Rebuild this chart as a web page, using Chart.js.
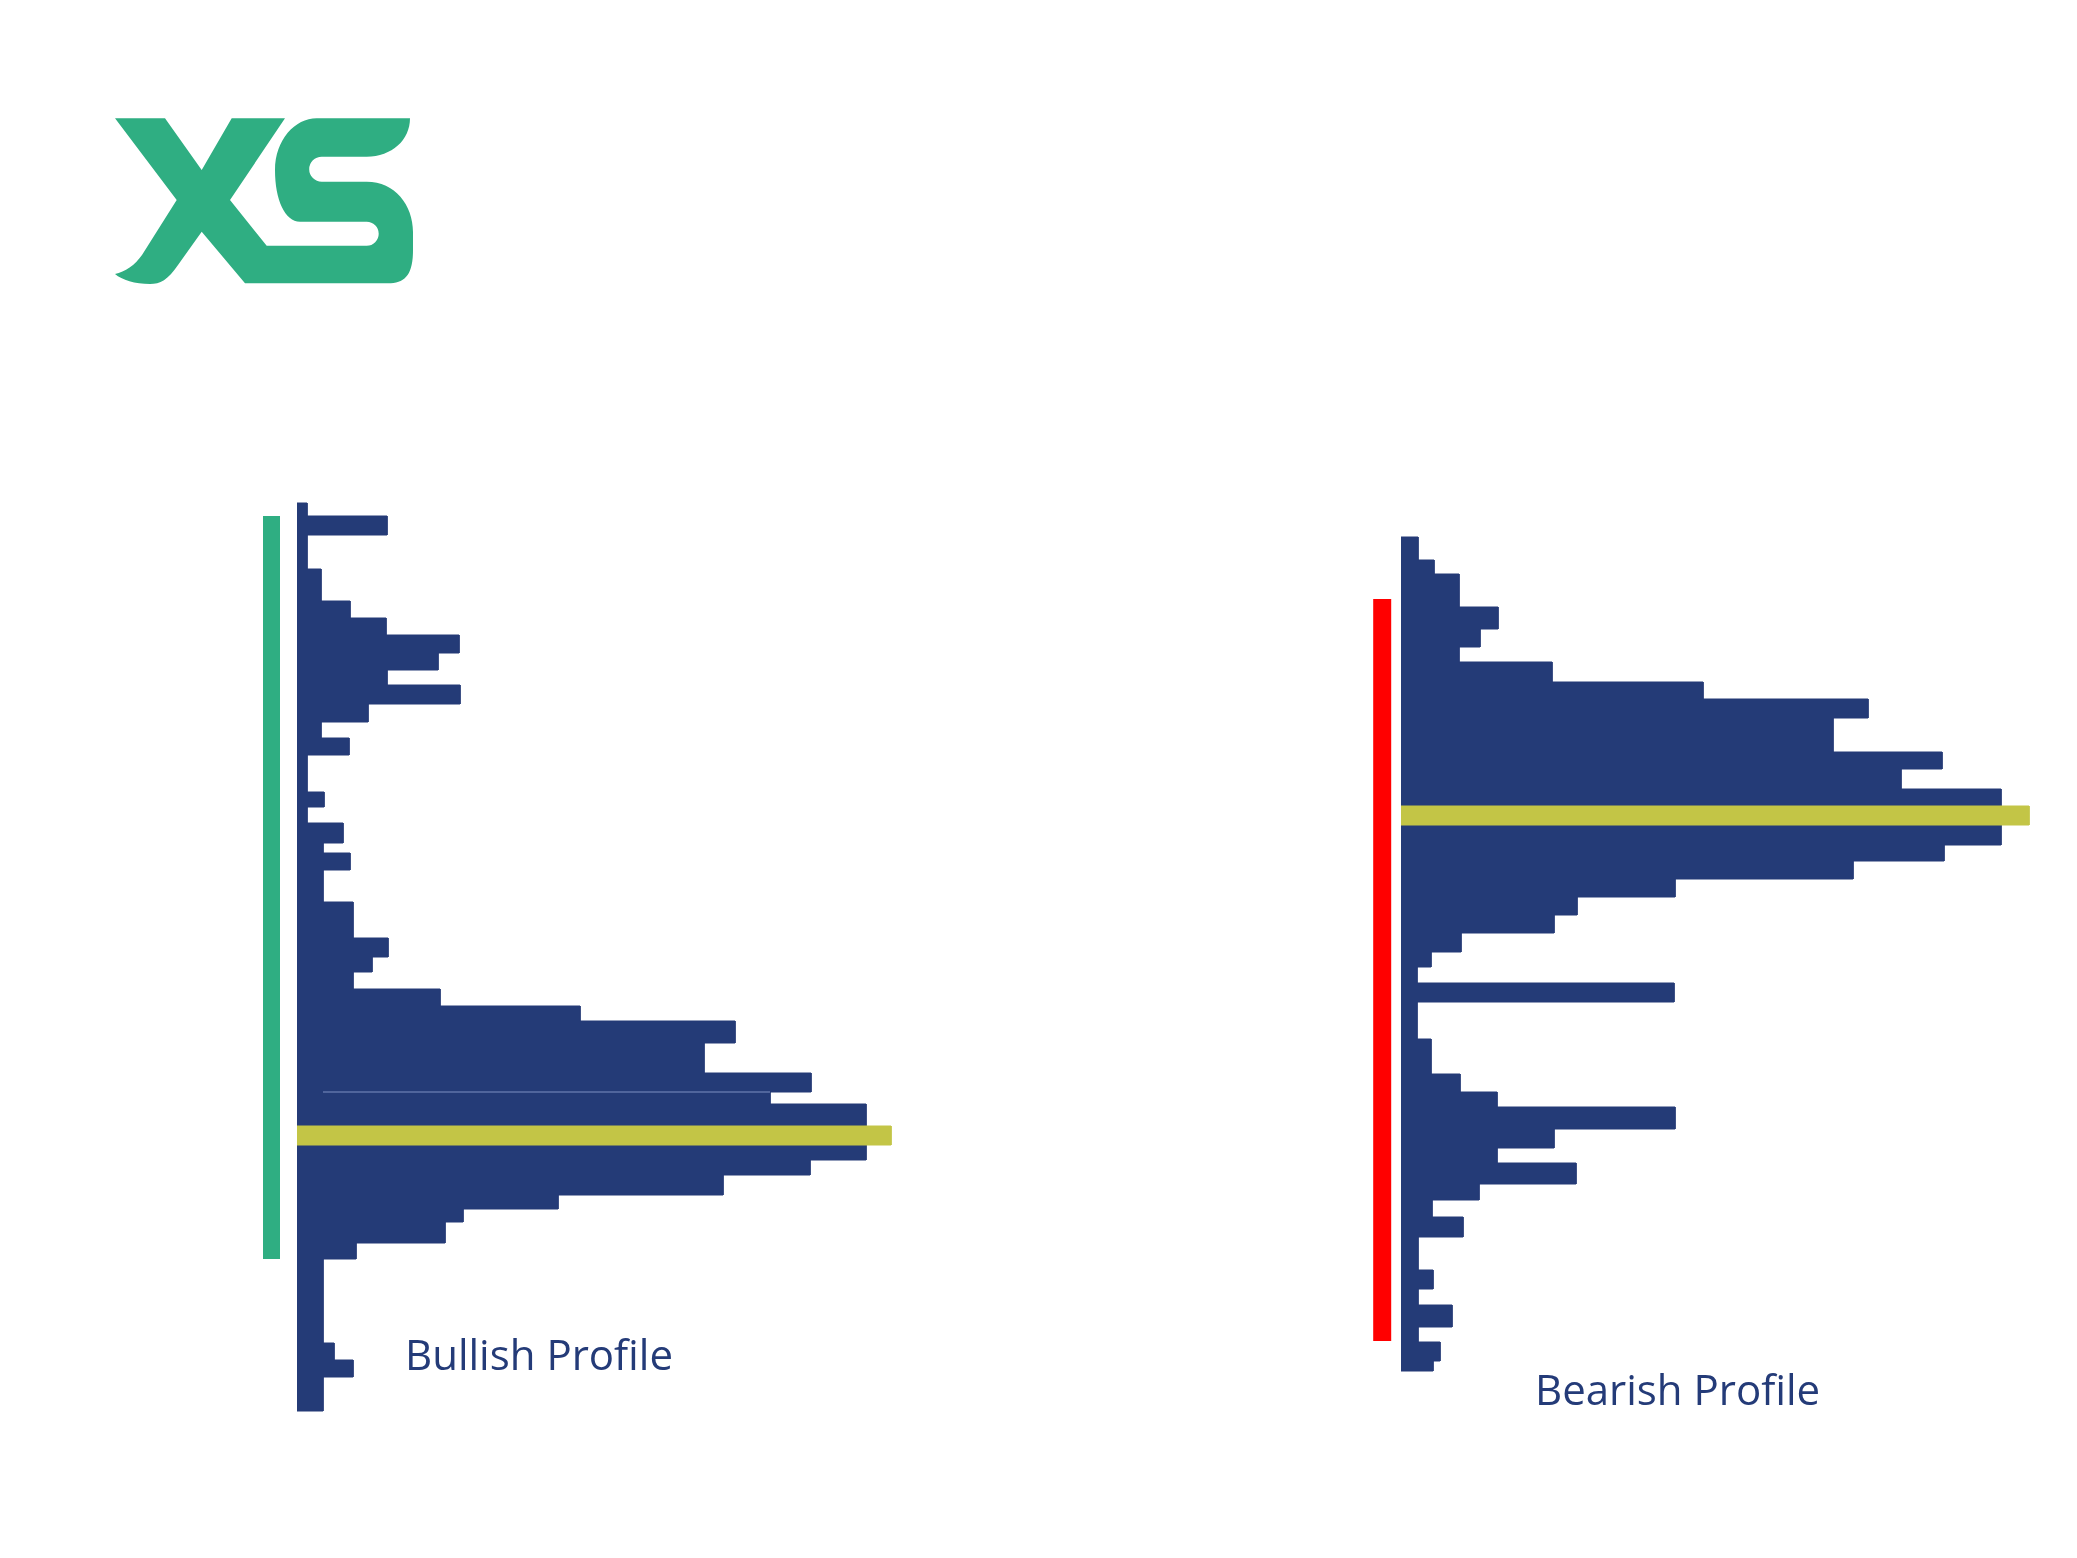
<!DOCTYPE html>
<html>
<head>
<meta charset="utf-8">
<title>Bullish / Bearish Volume Profile</title>
<script src="https://cdn.jsdelivr.net/npm/chart.js@4.4.1/dist/chart.umd.min.js"></script>
<style>
  body { margin: 0; background: #ffffff; }
  #page { position: relative; width: 2077px; height: 1558px; overflow: hidden; background: #ffffff; }
  .profile-chart { position: absolute; }
  .profile-label {
    position: absolute;
    font-family: "Open Sans", sans-serif;
    font-size: 42px;
    line-height: 42px;
    color: #243b78;
    white-space: nowrap;
  }
  #logo { position: absolute; left: 0; top: 0; }
</style>
</head>
<body>
<div id="page">
  <svg id="logo" width="450" height="320" viewBox="0 0 450 320">
    <path fill="#2fae82" d="M115,118.3 L165,118.3 L201.7,170 L231.7,118.3 L285,118.3 L230,200 L266.7,245.7 L366.7,245.7
      A12,12 0 0 0 366.7,221.7 L300,221.7 C285,221.7 275,200 275,170 C275,140 295,118.3 316.7,118.3 L410,118.3
      C410,140 392,156.7 366.7,156.7 L321.7,156.7 A12.5,12.5 0 0 0 321.7,181.7 L366.7,181.7
      C395,181.7 413,205 413,232 L413,250 C413,275 405,283.3 388,283.3 L245,283.3 L201.7,231.7 L178,265
      C168,280 160,284 150,284 C135,284 122,280 115,274 C125,272 135,265 142,255 L176.7,200 Z"/>
  </svg>
  <canvas id="bullChart" class="profile-chart" width="660" height="960" style="left:250px;top:480px"></canvas>
  <canvas id="bearChart" class="profile-chart" width="720" height="960" style="left:1340px;top:480px"></canvas>
  <div class="profile-label" style="left:405px;top:1333px">Bullish Profile</div>
  <div class="profile-label" style="left:1535px;top:1368px">Bearish Profile</div>
</div>
<script>
// price levels (row edges, top to bottom) and traded volume for every row
const bullLevels = [93.7, 92.4, 90.5, 87.1, 83.9, 82.2, 80.5, 78.7, 77.0, 75.5,
    73.6, 71.8, 70.2, 68.5, 64.8, 63.3, 61.7, 59.7, 58.7, 57.0,
    53.8, 50.2, 48.3, 46.8, 45.1, 43.4, 41.9, 39.7, 36.7, 34.8,
    33.6, 31.4, 29.5, 28.0, 26.5, 24.5, 23.1, 21.8, 19.7, 18.1,
    9.7, 8.0, 6.3, 2.9];
const bullVolume = [10, 90, 10, 24, 53, 89, 162, 141, 90, 163,
    71, 24, 52, 10, 27, 10, 46, 26, 53, 26,
    56, 91, 75, 56, 143, 283, 438, 407, 514, 473,
    569, 569, 569, 513, 426, 261, 166, 148, 59, 26,
    37, 56, 26];
const bullPoc = [31.4, 29.5];
const bullPocVolume = 594;
const bullValueArea = [92.4, 18.1];
// thin light seam that runs through the big bullish rows
const bullSeamPrice = 34.8;
const bullSeamVolume = [26, 473];

const bearLevels = [90.3, 88.0, 86.6, 83.3, 81.1, 79.3, 77.8, 75.8, 74.1, 72.2,
    68.8, 67.1, 65.1, 63.4, 61.5, 59.5, 57.9, 56.1, 54.3, 52.5,
    50.7, 48.8, 47.3, 45.7, 43.8, 40.1, 36.6, 34.8, 33.3, 31.1,
    29.2, 27.7, 25.6, 24.0, 22.3, 20.3, 17.0, 15.1, 13.5, 11.3,
    9.8, 7.9, 6.9];
const bearVolume = [17, 33, 58, 97, 79, 58, 151, 302, 467, 432,
    541, 500, 600, 600, 600, 543, 452, 274, 176, 153,
    60, 30, 16, 273, 16, 30, 59, 96, 274, 153,
    96, 175, 78, 31, 62, 17, 32, 17, 51, 17,
    39, 32];
const bearPoc = [63.4, 61.5];
const bearPocVolume = 628;
const bearValueArea = [84.1, 9.9];

const NAVY = '#243b77';
const POC_COLOR = '#c3c546';

// turn row edges + volumes into the closed step outline of the profile
function stepOutline(levels, volumes) {
    let pts = [{ x: 0, y: levels[0] }];
    for (let i = 0; i < volumes.length; i++) {
        pts.push({ x: volumes[i], y: levels[i] });
        pts.push({ x: volumes[i], y: levels[i + 1] });
    }
    pts.push({ x: 0, y: levels[levels.length - 1] });
    return pts;
}

function createProfileChart(chartID, levels, volumes, poc, pocVolume, valueArea, opts) {
    let datasets = [
        {
            label: 'POC',
            data: stepOutline(poc, [pocVolume]),
            fill: 'shape',
            backgroundColor: POC_COLOR,
            borderColor: POC_COLOR,
            borderWidth: 1,
            borderJoinStyle: 'miter',
            pointRadius: 0,
            order: 0
        },
        {
            label: 'Volume',
            data: stepOutline(levels, volumes),
            fill: 'shape',
            backgroundColor: NAVY,
            borderColor: NAVY,
            borderWidth: 1,
            borderJoinStyle: 'miter',
            pointRadius: 0,
            order: 2
        },
        {
            label: 'Value area',
            data: [{ x: opts.barX, y: valueArea[0] }, { x: opts.barX, y: valueArea[1] }],
            fill: false,
            borderColor: opts.barColor,
            borderWidth: opts.barWidth,
            borderCapStyle: 'butt',
            pointRadius: 0,
            order: 3
        }
    ];
    if (opts.seam) {
        datasets.push({
            label: 'Seam',
            data: [{ x: opts.seam.from, y: opts.seam.price }, { x: opts.seam.to, y: opts.seam.price }],
            fill: false,
            borderColor: '#5f75a8',
            borderWidth: 1.5,
            pointRadius: 0,
            order: 1
        });
    }

    const ctx = document.getElementById(chartID).getContext('2d');
    return new Chart(ctx, {
        type: 'line',
        data: { datasets: datasets },
        options: {
            responsive: false,
            animation: false,
            devicePixelRatio: 1,
            layout: { padding: 0 },
            plugins: {
                legend: { display: false },
                tooltip: { enabled: false }
            },
            scales: {
                x: { type: 'linear', display: false, min: opts.xMin, max: opts.xMax },
                y: { type: 'linear', display: false, min: 0, max: 96 }
            }
        }
    });
}

createProfileChart('bullChart', bullLevels, bullVolume, bullPoc, bullPocVolume, bullValueArea, {
    xMin: -47, xMax: 613,
    barX: -25.5, barWidth: 17, barColor: '#2fae82',
    seam: { price: bullSeamPrice, from: bullSeamVolume[0], to: bullSeamVolume[1] }
});

createProfileChart('bearChart', bearLevels, bearVolume, bearPoc, bearPocVolume, bearValueArea, {
    xMin: -61, xMax: 659,
    barX: -18.8, barWidth: 18, barColor: '#ff0000'
});
</script>
</body>
</html>
